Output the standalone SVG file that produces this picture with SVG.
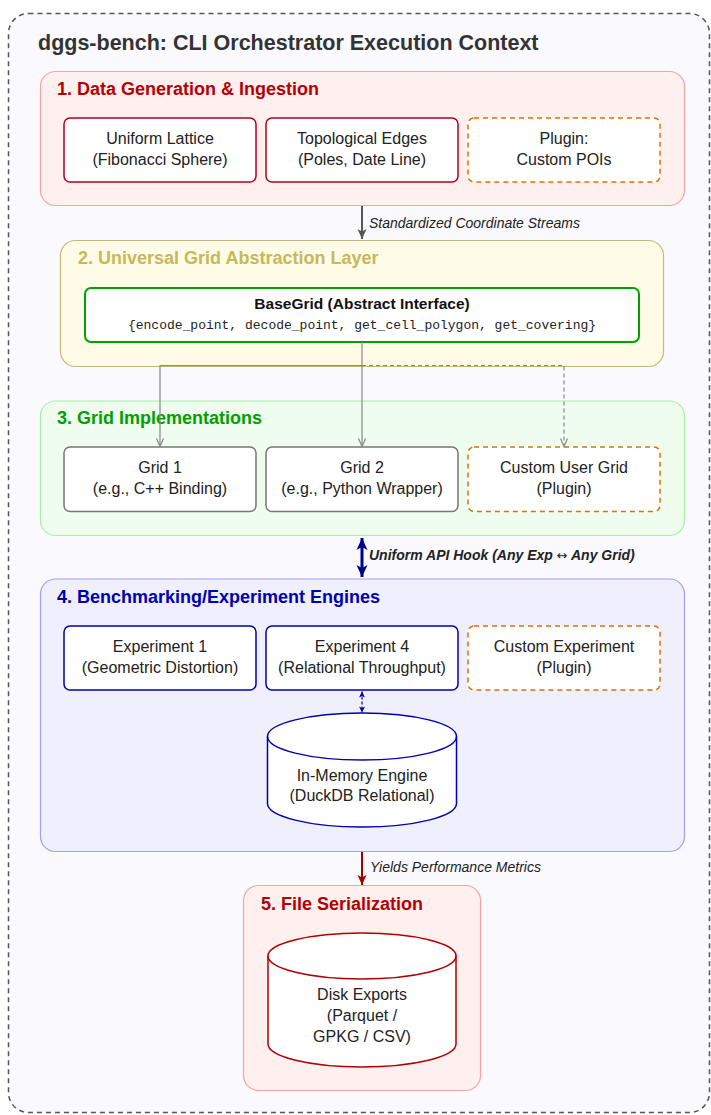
<svg xmlns="http://www.w3.org/2000/svg" width="711" height="1115" viewBox="0 0 711 1115">
<defs>
<style>
text{font-family:"Liberation Sans",Arial,sans-serif;fill:#222}
.title{font-size:21.5px;font-weight:bold;fill:#333}
.sec{font-size:18px;font-weight:bold}
.node{font-size:16px;text-anchor:middle}
.lbl{font-size:14px;font-style:italic;fill:#222}
.mono{font-family:"Liberation Mono","DejaVu Sans Mono",monospace;font-size:13px;text-anchor:middle}
.red{fill:#fff;stroke:#b00020;stroke-width:1.5}
.gray{fill:#fff;stroke:#777;stroke-width:1.5}
.blue{fill:#fff;stroke:#0000b0;stroke-width:1.5}
.plug{fill:#fff;stroke:#e07000;stroke-width:1.5;stroke-dasharray:5 4}
</style>
<marker id="ahGray" markerUnits="userSpaceOnUse" markerWidth="12" markerHeight="12" viewBox="0 0 12 12" refX="11" refY="6" orient="auto"><path d="M1,1.5 L11,6 L1,10.5 L3.5,6 Z" fill="#555"/></marker>
<marker id="ahThin" markerUnits="userSpaceOnUse" markerWidth="10" markerHeight="10" viewBox="0 0 10 10" refX="9" refY="5" orient="auto"><path d="M1,1.5 L9,5 L1,8.5" fill="none" stroke="#888" stroke-width="1.2"/></marker>
<marker id="ahBlue" markerUnits="userSpaceOnUse" markerWidth="14" markerHeight="14" viewBox="0 0 14 14" refX="13" refY="7" orient="auto-start-reverse"><path d="M1,1.5 L13,7 L1,12.5 L4,7 Z" fill="#00008b"/></marker>
<marker id="ahBlueS" markerUnits="userSpaceOnUse" markerWidth="8" markerHeight="8" viewBox="0 0 8 8" refX="7" refY="4" orient="auto-start-reverse"><path d="M1,1 L7,4 L1,7 L2.5,4 Z" fill="#0000b0"/></marker>
<marker id="ahRed" markerUnits="userSpaceOnUse" markerWidth="12" markerHeight="12" viewBox="0 0 12 12" refX="11" refY="6" orient="auto"><path d="M1,1.5 L11,6 L1,10.5 L3.5,6 Z" fill="#a00000"/></marker>
</defs>

<g id="outer">
<rect x="8.5" y="13.5" width="701" height="1099" rx="20" fill="#f9f9fe" stroke="#555" stroke-width="1.5" stroke-dasharray="5 4"/>
<text class="title" x="38" y="50">dggs-bench: CLI Orchestrator Execution Context</text>
</g>

<g id="section1">
<rect x="40.5" y="71.5" width="644" height="134" rx="15" fill="#fff0f0" stroke="#f5a3a3" stroke-width="1.2"/>
<text class="sec" x="57" y="95" style="fill:#b30000">1. Data Generation &amp; Ingestion</text>
</g>
<g id="node-lattice">
<rect class="red" x="64" y="118" width="192" height="64" rx="6"/>
<text class="node" x="160" y="144">Uniform Lattice</text>
<text class="node" x="160" y="165">(Fibonacci Sphere)</text>
</g>
<g id="node-edges">
<rect class="red" x="266" y="118" width="192" height="64" rx="6"/>
<text class="node" x="362" y="144">Topological Edges</text>
<text class="node" x="362" y="165">(Poles, Date Line)</text>
</g>
<g id="node-pois">
<rect class="plug" x="468" y="118" width="192" height="64" rx="6"/>
<text class="node" x="564" y="144">Plugin:</text>
<text class="node" x="564" y="165">Custom POIs</text>
</g>

<g id="section2">
<rect x="60.5" y="240.5" width="603" height="126" rx="15" fill="#fefbe6" stroke="#c8b878" stroke-width="1.2"/>
<text class="sec" x="78" y="264" style="fill:#c8b85a">2. Universal Grid Abstraction Layer</text>
</g>
<g id="node-basegrid">
<rect x="85" y="288" width="554" height="54" rx="6" fill="#fff" stroke="#00a000" stroke-width="2"/>
<text class="node" x="362" y="309" style="font-weight:bold;font-size:15.5px;fill:#111">BaseGrid (Abstract Interface)</text>
<text class="mono" x="362" y="329">{encode_point, decode_point, get_cell_polygon, get_covering}</text>
</g>

<g id="section3">
<rect x="40.5" y="401" width="644" height="134.5" rx="15" fill="#effdef" stroke="#a8f0a8" stroke-width="1.2"/>
<text class="sec" x="57" y="424" style="fill:#00a000">3. Grid Implementations</text>
</g>
<g id="node-grid1">
<rect class="gray" x="64" y="447" width="192" height="64.5" rx="6"/>
<text class="node" x="160" y="473">Grid 1</text>
<text class="node" x="160" y="494">(e.g., C++ Binding)</text>
</g>
<g id="node-grid2">
<rect class="gray" x="266" y="447" width="192" height="64.5" rx="6"/>
<text class="node" x="362" y="473">Grid 2</text>
<text class="node" x="362" y="494">(e.g., Python Wrapper)</text>
</g>
<g id="node-customgrid">
<rect class="plug" x="468" y="447" width="192" height="64.5" rx="6"/>
<text class="node" x="564" y="473">Custom User Grid</text>
<text class="node" x="564" y="494">(Plugin)</text>
</g>

<g id="section4">
<rect x="40.5" y="579" width="644" height="272.5" rx="15" fill="#efeffd" stroke="#a0a0f8" stroke-width="1.2"/>
<text class="sec" x="57" y="603" style="fill:#0000b0">4. Benchmarking/Experiment Engines</text>
</g>
<g id="node-exp1">
<rect class="blue" x="64" y="626" width="192" height="64" rx="6"/>
<text class="node" x="160" y="652">Experiment 1</text>
<text class="node" x="160" y="673">(Geometric Distortion)</text>
</g>
<g id="node-exp4">
<rect class="blue" x="266" y="626" width="192" height="64" rx="6"/>
<text class="node" x="362" y="652">Experiment 4</text>
<text class="node" x="362" y="673">(Relational Throughput)</text>
</g>
<g id="node-customexp">
<rect class="plug" x="468" y="626" width="192" height="64" rx="6"/>
<text class="node" x="564" y="652">Custom Experiment</text>
<text class="node" x="564" y="673">(Plugin)</text>
</g>
<g id="node-duckdb">
<path d="M267.5,736.5 A94.5,23.5 0 0 1 456.5,736.5 L456.5,803.5 A94.5,23.5 0 0 1 267.5,803.5 Z" fill="#fff" stroke="#0000b0" stroke-width="1.5"/>
<path d="M267.5,736.5 A94.5,23.5 0 0 0 456.5,736.5" fill="none" stroke="#0000b0" stroke-width="1.5"/>
<text class="node" x="362" y="781">In-Memory Engine</text>
<text class="node" x="362" y="801">(DuckDB Relational)</text>
</g>

<g id="section5">
<rect x="243.5" y="885.5" width="237" height="205" rx="15" fill="#fff0f0" stroke="#f5a3a3" stroke-width="1.2"/>
<text class="sec" x="261" y="910" style="fill:#b30000">5. File Serialization</text>
</g>
<g id="node-disk">
<path d="M268,956 A94,23 0 0 1 456,956 L456,1044 A94,23 0 0 1 268,1044 Z" fill="#fff" stroke="#b00000" stroke-width="1.5"/>
<path d="M268,956 A94,23 0 0 0 456,956" fill="none" stroke="#b00000" stroke-width="1.5"/>
<text class="node" x="362" y="1000">Disk Exports</text>
<text class="node" x="362" y="1021">(Parquet /</text>
<text class="node" x="362" y="1042">GPKG / CSV)</text>
</g>

<g id="connectors">
<line x1="362" y1="206" x2="362" y2="239" stroke="#555" stroke-width="2" marker-end="url(#ahGray)"/>
<text class="lbl" x="369" y="228">Standardized Coordinate Streams</text>

<path d="M362,342 L362,446.5" fill="none" stroke="#888" stroke-width="1.2" marker-end="url(#ahThin)"/>
<path d="M362,365.5 L160,365.5 L160,446.5" fill="none" stroke="#888" stroke-width="1.2" marker-end="url(#ahThin)"/>
<path d="M362,365.5 L564,365.5 L564,446.5" fill="none" stroke="#888" stroke-width="1.2" stroke-dasharray="4 3" marker-end="url(#ahThin)"/>

<line x1="362" y1="538" x2="362" y2="577" stroke="#00008b" stroke-width="3" marker-start="url(#ahBlue)" marker-end="url(#ahBlue)"/>
<text class="lbl" x="369" y="560" style="font-weight:bold">Uniform API Hook (Any Exp <tspan style="font-family:'DejaVu Sans',sans-serif;font-weight:normal;font-style:normal;font-size:13px">↔</tspan> Any Grid)</text>

<line x1="362" y1="691.5" x2="362" y2="712.5" stroke="#0000b0" stroke-width="1.2" stroke-dasharray="3 2" marker-start="url(#ahBlueS)" marker-end="url(#ahBlueS)"/>

<line x1="362" y1="852" x2="362" y2="885" stroke="#a00000" stroke-width="2" marker-end="url(#ahRed)"/>
<text class="lbl" x="370" y="872">Yields Performance Metrics</text>
</g>
</svg>
